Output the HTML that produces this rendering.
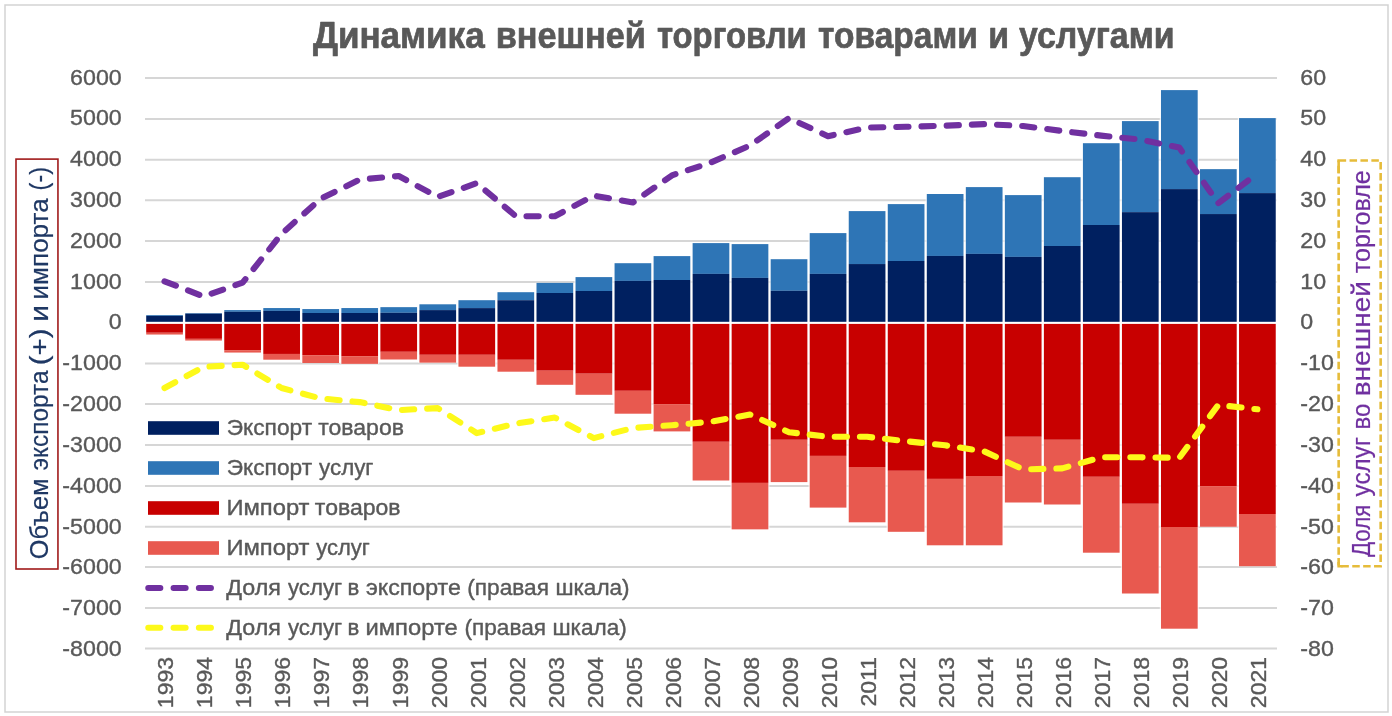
<!DOCTYPE html>
<html lang="ru"><head><meta charset="utf-8"><title>Динамика внешней торговли товарами и услугами</title>
<style>html,body{margin:0;padding:0;background:#fff}svg{display:block}</style></head>
<body>
<svg width="1392" height="716" viewBox="0 0 1392 716">
<rect x="0" y="0" width="1392" height="716" fill="#ffffff"/>
<rect x="5" y="5" width="1383" height="707" fill="none" stroke="#D3D3D3" stroke-width="1.5"/>
<line x1="145" x2="1277" y1="78.00" y2="78.00" stroke="#D6D6D6" stroke-width="2"/>
<line x1="145" x2="1277" y1="118.90" y2="118.90" stroke="#D6D6D6" stroke-width="2"/>
<line x1="145" x2="1277" y1="159.70" y2="159.70" stroke="#D6D6D6" stroke-width="2"/>
<line x1="145" x2="1277" y1="200.20" y2="200.20" stroke="#D6D6D6" stroke-width="2"/>
<line x1="145" x2="1277" y1="240.90" y2="240.90" stroke="#D6D6D6" stroke-width="2"/>
<line x1="145" x2="1277" y1="281.90" y2="281.90" stroke="#D6D6D6" stroke-width="2"/>
<line x1="145" x2="1277" y1="363.60" y2="363.60" stroke="#D6D6D6" stroke-width="2"/>
<line x1="145" x2="1277" y1="404.10" y2="404.10" stroke="#D6D6D6" stroke-width="2"/>
<line x1="145" x2="1277" y1="445.00" y2="445.00" stroke="#D6D6D6" stroke-width="2"/>
<line x1="145" x2="1277" y1="485.90" y2="485.90" stroke="#D6D6D6" stroke-width="2"/>
<line x1="145" x2="1277" y1="526.70" y2="526.70" stroke="#D6D6D6" stroke-width="2"/>
<line x1="145" x2="1277" y1="567.10" y2="567.10" stroke="#D6D6D6" stroke-width="2"/>
<line x1="145" x2="1277" y1="608.00" y2="608.00" stroke="#D6D6D6" stroke-width="2"/>
<line x1="145" x2="1277" y1="648.60" y2="648.60" stroke="#D6D6D6" stroke-width="2"/>
<rect x="145.00" y="315.10" width="39.03" height="19.45" fill="#ffffff" fill-opacity="0.75"/>
<rect x="146.20" y="315.10" width="36.7" height="0.80" fill="#2E75B6"/>
<rect x="146.20" y="315.90" width="36.7" height="5.90" fill="#002060"/>
<rect x="146.20" y="323.90" width="36.7" height="8.85" fill="#C80000"/>
<rect x="146.20" y="332.75" width="36.7" height="1.80" fill="#E8594F"/>
<rect x="184.03" y="313.10" width="39.03" height="27.45" fill="#ffffff" fill-opacity="0.75"/>
<rect x="185.23" y="313.10" width="36.7" height="0.60" fill="#2E75B6"/>
<rect x="185.23" y="313.70" width="36.7" height="8.10" fill="#002060"/>
<rect x="185.23" y="323.90" width="36.7" height="14.95" fill="#C80000"/>
<rect x="185.23" y="338.85" width="36.7" height="1.70" fill="#E8594F"/>
<rect x="223.06" y="310.10" width="39.03" height="42.45" fill="#ffffff" fill-opacity="0.75"/>
<rect x="224.26" y="310.10" width="36.7" height="1.70" fill="#2E75B6"/>
<rect x="224.26" y="311.80" width="36.7" height="10.00" fill="#002060"/>
<rect x="224.26" y="323.90" width="36.7" height="26.25" fill="#C80000"/>
<rect x="224.26" y="350.15" width="36.7" height="2.40" fill="#E8594F"/>
<rect x="262.09" y="308.05" width="39.03" height="51.65" fill="#ffffff" fill-opacity="0.75"/>
<rect x="263.29" y="308.05" width="36.7" height="2.85" fill="#2E75B6"/>
<rect x="263.29" y="310.90" width="36.7" height="10.90" fill="#002060"/>
<rect x="263.29" y="323.90" width="36.7" height="30.05" fill="#C80000"/>
<rect x="263.29" y="353.95" width="36.7" height="5.75" fill="#E8594F"/>
<rect x="301.12" y="309.06" width="39.03" height="53.94" fill="#ffffff" fill-opacity="0.75"/>
<rect x="302.32" y="309.06" width="36.7" height="3.94" fill="#2E75B6"/>
<rect x="302.32" y="313.00" width="36.7" height="8.80" fill="#002060"/>
<rect x="302.32" y="323.90" width="36.7" height="31.25" fill="#C80000"/>
<rect x="302.32" y="355.15" width="36.7" height="7.85" fill="#E8594F"/>
<rect x="340.15" y="308.05" width="39.03" height="55.80" fill="#ffffff" fill-opacity="0.75"/>
<rect x="341.35" y="308.05" width="36.7" height="4.95" fill="#2E75B6"/>
<rect x="341.35" y="313.00" width="36.7" height="8.80" fill="#002060"/>
<rect x="341.35" y="323.90" width="36.7" height="32.25" fill="#C80000"/>
<rect x="341.35" y="356.15" width="36.7" height="7.70" fill="#E8594F"/>
<rect x="379.18" y="307.15" width="39.03" height="52.35" fill="#ffffff" fill-opacity="0.75"/>
<rect x="380.38" y="307.15" width="36.7" height="5.65" fill="#2E75B6"/>
<rect x="380.38" y="312.80" width="36.7" height="9.00" fill="#002060"/>
<rect x="380.38" y="323.90" width="36.7" height="27.90" fill="#C80000"/>
<rect x="380.38" y="351.80" width="36.7" height="7.70" fill="#E8594F"/>
<rect x="418.21" y="304.30" width="39.03" height="58.35" fill="#ffffff" fill-opacity="0.75"/>
<rect x="419.41" y="304.30" width="36.7" height="5.80" fill="#2E75B6"/>
<rect x="419.41" y="310.10" width="36.7" height="11.70" fill="#002060"/>
<rect x="419.41" y="323.90" width="36.7" height="30.90" fill="#C80000"/>
<rect x="419.41" y="354.80" width="36.7" height="7.85" fill="#E8594F"/>
<rect x="457.24" y="300.20" width="39.03" height="66.50" fill="#ffffff" fill-opacity="0.75"/>
<rect x="458.44" y="300.20" width="36.7" height="7.90" fill="#2E75B6"/>
<rect x="458.44" y="308.10" width="36.7" height="13.70" fill="#002060"/>
<rect x="458.44" y="323.90" width="36.7" height="30.90" fill="#C80000"/>
<rect x="458.44" y="354.80" width="36.7" height="11.90" fill="#E8594F"/>
<rect x="496.27" y="292.20" width="39.03" height="79.50" fill="#ffffff" fill-opacity="0.75"/>
<rect x="497.47" y="292.20" width="36.7" height="8.00" fill="#2E75B6"/>
<rect x="497.47" y="300.20" width="36.7" height="21.60" fill="#002060"/>
<rect x="497.47" y="323.90" width="36.7" height="35.90" fill="#C80000"/>
<rect x="497.47" y="359.80" width="36.7" height="11.90" fill="#E8594F"/>
<rect x="535.30" y="282.90" width="39.03" height="101.90" fill="#ffffff" fill-opacity="0.75"/>
<rect x="536.50" y="282.90" width="36.7" height="10.10" fill="#2E75B6"/>
<rect x="536.50" y="293.00" width="36.7" height="28.80" fill="#002060"/>
<rect x="536.50" y="323.90" width="36.7" height="46.80" fill="#C80000"/>
<rect x="536.50" y="370.70" width="36.7" height="14.10" fill="#E8594F"/>
<rect x="574.33" y="277.10" width="39.03" height="117.70" fill="#ffffff" fill-opacity="0.75"/>
<rect x="575.53" y="277.10" width="36.7" height="13.90" fill="#2E75B6"/>
<rect x="575.53" y="291.00" width="36.7" height="30.80" fill="#002060"/>
<rect x="575.53" y="323.90" width="36.7" height="49.80" fill="#C80000"/>
<rect x="575.53" y="373.70" width="36.7" height="21.10" fill="#E8594F"/>
<rect x="613.36" y="263.20" width="39.03" height="150.50" fill="#ffffff" fill-opacity="0.75"/>
<rect x="614.56" y="263.20" width="36.7" height="17.70" fill="#2E75B6"/>
<rect x="614.56" y="280.90" width="36.7" height="40.90" fill="#002060"/>
<rect x="614.56" y="323.90" width="36.7" height="66.90" fill="#C80000"/>
<rect x="614.56" y="390.80" width="36.7" height="22.90" fill="#E8594F"/>
<rect x="652.39" y="256.10" width="39.03" height="175.30" fill="#ffffff" fill-opacity="0.75"/>
<rect x="653.59" y="256.10" width="36.7" height="23.90" fill="#2E75B6"/>
<rect x="653.59" y="280.00" width="36.7" height="41.80" fill="#002060"/>
<rect x="653.59" y="323.90" width="36.7" height="80.20" fill="#C80000"/>
<rect x="653.59" y="404.10" width="36.7" height="27.30" fill="#E8594F"/>
<rect x="691.42" y="243.10" width="39.03" height="237.40" fill="#ffffff" fill-opacity="0.75"/>
<rect x="692.62" y="243.10" width="36.7" height="30.80" fill="#2E75B6"/>
<rect x="692.62" y="273.90" width="36.7" height="47.90" fill="#002060"/>
<rect x="692.62" y="323.90" width="36.7" height="117.90" fill="#C80000"/>
<rect x="692.62" y="441.80" width="36.7" height="38.70" fill="#E8594F"/>
<rect x="730.45" y="244.10" width="39.03" height="285.25" fill="#ffffff" fill-opacity="0.75"/>
<rect x="731.65" y="244.10" width="36.7" height="33.80" fill="#2E75B6"/>
<rect x="731.65" y="277.90" width="36.7" height="43.90" fill="#002060"/>
<rect x="731.65" y="323.90" width="36.7" height="159.00" fill="#C80000"/>
<rect x="731.65" y="482.90" width="36.7" height="46.45" fill="#E8594F"/>
<rect x="769.48" y="259.20" width="39.03" height="222.90" fill="#ffffff" fill-opacity="0.75"/>
<rect x="770.68" y="259.20" width="36.7" height="31.60" fill="#2E75B6"/>
<rect x="770.68" y="290.80" width="36.7" height="31.00" fill="#002060"/>
<rect x="770.68" y="323.90" width="36.7" height="115.90" fill="#C80000"/>
<rect x="770.68" y="439.80" width="36.7" height="42.30" fill="#E8594F"/>
<rect x="808.51" y="233.10" width="39.03" height="274.50" fill="#ffffff" fill-opacity="0.75"/>
<rect x="809.71" y="233.10" width="36.7" height="40.80" fill="#2E75B6"/>
<rect x="809.71" y="273.90" width="36.7" height="47.90" fill="#002060"/>
<rect x="809.71" y="323.90" width="36.7" height="132.00" fill="#C80000"/>
<rect x="809.71" y="455.90" width="36.7" height="51.70" fill="#E8594F"/>
<rect x="847.54" y="211.10" width="39.03" height="311.20" fill="#ffffff" fill-opacity="0.75"/>
<rect x="848.74" y="211.10" width="36.7" height="52.95" fill="#2E75B6"/>
<rect x="848.74" y="264.05" width="36.7" height="57.75" fill="#002060"/>
<rect x="848.74" y="323.90" width="36.7" height="143.10" fill="#C80000"/>
<rect x="848.74" y="467.00" width="36.7" height="55.30" fill="#E8594F"/>
<rect x="886.57" y="204.10" width="39.03" height="327.70" fill="#ffffff" fill-opacity="0.75"/>
<rect x="887.77" y="204.10" width="36.7" height="56.90" fill="#2E75B6"/>
<rect x="887.77" y="261.00" width="36.7" height="60.80" fill="#002060"/>
<rect x="887.77" y="323.90" width="36.7" height="146.90" fill="#C80000"/>
<rect x="887.77" y="470.80" width="36.7" height="61.00" fill="#E8594F"/>
<rect x="925.60" y="194.00" width="39.03" height="351.30" fill="#ffffff" fill-opacity="0.75"/>
<rect x="926.80" y="194.00" width="36.7" height="61.95" fill="#2E75B6"/>
<rect x="926.80" y="255.95" width="36.7" height="65.85" fill="#002060"/>
<rect x="926.80" y="323.90" width="36.7" height="155.00" fill="#C80000"/>
<rect x="926.80" y="478.90" width="36.7" height="66.40" fill="#E8594F"/>
<rect x="964.63" y="187.10" width="39.03" height="358.20" fill="#ffffff" fill-opacity="0.75"/>
<rect x="965.83" y="187.10" width="36.7" height="66.80" fill="#2E75B6"/>
<rect x="965.83" y="253.90" width="36.7" height="67.90" fill="#002060"/>
<rect x="965.83" y="323.90" width="36.7" height="152.10" fill="#C80000"/>
<rect x="965.83" y="476.00" width="36.7" height="69.30" fill="#E8594F"/>
<rect x="1003.66" y="195.10" width="39.03" height="307.40" fill="#ffffff" fill-opacity="0.75"/>
<rect x="1004.86" y="195.10" width="36.7" height="61.80" fill="#2E75B6"/>
<rect x="1004.86" y="256.90" width="36.7" height="64.90" fill="#002060"/>
<rect x="1004.86" y="323.90" width="36.7" height="112.90" fill="#C80000"/>
<rect x="1004.86" y="436.80" width="36.7" height="65.70" fill="#E8594F"/>
<rect x="1042.69" y="177.20" width="39.03" height="327.30" fill="#ffffff" fill-opacity="0.75"/>
<rect x="1043.89" y="177.20" width="36.7" height="68.80" fill="#2E75B6"/>
<rect x="1043.89" y="246.00" width="36.7" height="75.80" fill="#002060"/>
<rect x="1043.89" y="323.90" width="36.7" height="115.90" fill="#C80000"/>
<rect x="1043.89" y="439.80" width="36.7" height="64.70" fill="#E8594F"/>
<rect x="1081.72" y="143.20" width="39.03" height="409.50" fill="#ffffff" fill-opacity="0.75"/>
<rect x="1082.92" y="143.20" width="36.7" height="81.80" fill="#2E75B6"/>
<rect x="1082.92" y="225.00" width="36.7" height="96.80" fill="#002060"/>
<rect x="1082.92" y="323.90" width="36.7" height="152.90" fill="#C80000"/>
<rect x="1082.92" y="476.80" width="36.7" height="75.90" fill="#E8594F"/>
<rect x="1120.75" y="121.10" width="39.03" height="472.40" fill="#ffffff" fill-opacity="0.75"/>
<rect x="1121.95" y="121.10" width="36.7" height="91.05" fill="#2E75B6"/>
<rect x="1121.95" y="212.15" width="36.7" height="109.65" fill="#002060"/>
<rect x="1121.95" y="323.90" width="36.7" height="179.90" fill="#C80000"/>
<rect x="1121.95" y="503.80" width="36.7" height="89.70" fill="#E8594F"/>
<rect x="1159.78" y="90.10" width="39.03" height="538.60" fill="#ffffff" fill-opacity="0.75"/>
<rect x="1160.98" y="90.10" width="36.7" height="99.00" fill="#2E75B6"/>
<rect x="1160.98" y="189.10" width="36.7" height="132.70" fill="#002060"/>
<rect x="1160.98" y="323.90" width="36.7" height="203.10" fill="#C80000"/>
<rect x="1160.98" y="527.00" width="36.7" height="101.70" fill="#E8594F"/>
<rect x="1198.81" y="169.15" width="39.03" height="357.60" fill="#ffffff" fill-opacity="0.75"/>
<rect x="1200.01" y="169.15" width="36.7" height="44.90" fill="#2E75B6"/>
<rect x="1200.01" y="214.05" width="36.7" height="107.75" fill="#002060"/>
<rect x="1200.01" y="323.90" width="36.7" height="162.20" fill="#C80000"/>
<rect x="1200.01" y="486.10" width="36.7" height="40.65" fill="#E8594F"/>
<rect x="1237.84" y="118.10" width="39.03" height="448.10" fill="#ffffff" fill-opacity="0.75"/>
<rect x="1239.04" y="118.10" width="36.7" height="75.00" fill="#2E75B6"/>
<rect x="1239.04" y="193.10" width="36.7" height="128.70" fill="#002060"/>
<rect x="1239.04" y="323.90" width="36.7" height="190.10" fill="#C80000"/>
<rect x="1239.04" y="514.00" width="36.7" height="52.20" fill="#E8594F"/>
<polyline points="164.5,281.3 203.5,296.4 242.6,282.7 281.6,233.8 320.6,198.8 359.7,179.6 398.7,176.0 437.7,196.9 476.8,183.2 515.8,216.2 554.8,216.2 593.8,195.6 632.9,202.5 671.9,175.4 710.9,162.5 750.0,145.5 789.0,118.1 828.0,136.2 867.1,127.6 906.1,126.8 945.1,125.7 984.1,124.1 1023.2,126.0 1062.2,131.0 1101.2,135.6 1140.3,139.6 1179.3,147.6 1218.3,203.2 1257.4,173.5" fill="none" stroke="#7030A0" stroke-width="6.1" stroke-linecap="round" stroke-linejoin="round" stroke-dasharray="12.2 13.0"/>
<polyline points="164.5,388.0 203.5,366.9 242.6,364.7 281.6,388.0 320.6,398.4 359.7,402.1 398.7,410.1 437.7,408.1 476.8,433.1 515.8,423.6 554.8,417.6 593.8,438.1 632.9,428.0 671.9,425.2 710.9,421.7 750.0,414.5 789.0,432.2 828.0,436.8 867.1,436.8 906.1,441.2 945.1,445.3 984.1,451.3 1023.2,469.4 1062.2,468.4 1101.2,457.3 1140.3,457.3 1179.3,457.8 1218.3,404.9 1257.4,409.3" fill="none" stroke="#FDF91A" stroke-width="6.1" stroke-linecap="round" stroke-linejoin="round" stroke-dasharray="12.2 12.97"/>
<text transform="translate(121.7,84.60) scale(1.075,1)" font-family="Liberation Sans, Arial, sans-serif" font-size="21.6" fill="#595959" stroke="#595959" stroke-width="0.35" text-anchor="end">6000</text>
<text transform="translate(1300.3,84.60) scale(1.075,1)" font-family="Liberation Sans, Arial, sans-serif" font-size="21.6" fill="#595959" stroke="#595959" stroke-width="0.35">60</text>
<text transform="translate(121.7,125.41) scale(1.075,1)" font-family="Liberation Sans, Arial, sans-serif" font-size="21.6" fill="#595959" stroke="#595959" stroke-width="0.35" text-anchor="end">5000</text>
<text transform="translate(1300.3,125.41) scale(1.075,1)" font-family="Liberation Sans, Arial, sans-serif" font-size="21.6" fill="#595959" stroke="#595959" stroke-width="0.35">50</text>
<text transform="translate(121.7,166.22) scale(1.075,1)" font-family="Liberation Sans, Arial, sans-serif" font-size="21.6" fill="#595959" stroke="#595959" stroke-width="0.35" text-anchor="end">4000</text>
<text transform="translate(1300.3,166.22) scale(1.075,1)" font-family="Liberation Sans, Arial, sans-serif" font-size="21.6" fill="#595959" stroke="#595959" stroke-width="0.35">40</text>
<text transform="translate(121.7,207.03) scale(1.075,1)" font-family="Liberation Sans, Arial, sans-serif" font-size="21.6" fill="#595959" stroke="#595959" stroke-width="0.35" text-anchor="end">3000</text>
<text transform="translate(1300.3,207.03) scale(1.075,1)" font-family="Liberation Sans, Arial, sans-serif" font-size="21.6" fill="#595959" stroke="#595959" stroke-width="0.35">30</text>
<text transform="translate(121.7,247.84) scale(1.075,1)" font-family="Liberation Sans, Arial, sans-serif" font-size="21.6" fill="#595959" stroke="#595959" stroke-width="0.35" text-anchor="end">2000</text>
<text transform="translate(1300.3,247.84) scale(1.075,1)" font-family="Liberation Sans, Arial, sans-serif" font-size="21.6" fill="#595959" stroke="#595959" stroke-width="0.35">20</text>
<text transform="translate(121.7,288.65) scale(1.075,1)" font-family="Liberation Sans, Arial, sans-serif" font-size="21.6" fill="#595959" stroke="#595959" stroke-width="0.35" text-anchor="end">1000</text>
<text transform="translate(1300.3,288.65) scale(1.075,1)" font-family="Liberation Sans, Arial, sans-serif" font-size="21.6" fill="#595959" stroke="#595959" stroke-width="0.35">10</text>
<text transform="translate(121.7,329.46) scale(1.075,1)" font-family="Liberation Sans, Arial, sans-serif" font-size="21.6" fill="#595959" stroke="#595959" stroke-width="0.35" text-anchor="end">0</text>
<text transform="translate(1300.3,329.46) scale(1.075,1)" font-family="Liberation Sans, Arial, sans-serif" font-size="21.6" fill="#595959" stroke="#595959" stroke-width="0.35">0</text>
<text transform="translate(121.7,370.27) scale(1.075,1)" font-family="Liberation Sans, Arial, sans-serif" font-size="21.6" fill="#595959" stroke="#595959" stroke-width="0.35" text-anchor="end">-1000</text>
<text transform="translate(1300.3,370.27) scale(1.075,1)" font-family="Liberation Sans, Arial, sans-serif" font-size="21.6" fill="#595959" stroke="#595959" stroke-width="0.35">-10</text>
<text transform="translate(121.7,411.08) scale(1.075,1)" font-family="Liberation Sans, Arial, sans-serif" font-size="21.6" fill="#595959" stroke="#595959" stroke-width="0.35" text-anchor="end">-2000</text>
<text transform="translate(1300.3,411.08) scale(1.075,1)" font-family="Liberation Sans, Arial, sans-serif" font-size="21.6" fill="#595959" stroke="#595959" stroke-width="0.35">-20</text>
<text transform="translate(121.7,451.89) scale(1.075,1)" font-family="Liberation Sans, Arial, sans-serif" font-size="21.6" fill="#595959" stroke="#595959" stroke-width="0.35" text-anchor="end">-3000</text>
<text transform="translate(1300.3,451.89) scale(1.075,1)" font-family="Liberation Sans, Arial, sans-serif" font-size="21.6" fill="#595959" stroke="#595959" stroke-width="0.35">-30</text>
<text transform="translate(121.7,492.70) scale(1.075,1)" font-family="Liberation Sans, Arial, sans-serif" font-size="21.6" fill="#595959" stroke="#595959" stroke-width="0.35" text-anchor="end">-4000</text>
<text transform="translate(1300.3,492.70) scale(1.075,1)" font-family="Liberation Sans, Arial, sans-serif" font-size="21.6" fill="#595959" stroke="#595959" stroke-width="0.35">-40</text>
<text transform="translate(121.7,533.51) scale(1.075,1)" font-family="Liberation Sans, Arial, sans-serif" font-size="21.6" fill="#595959" stroke="#595959" stroke-width="0.35" text-anchor="end">-5000</text>
<text transform="translate(1300.3,533.51) scale(1.075,1)" font-family="Liberation Sans, Arial, sans-serif" font-size="21.6" fill="#595959" stroke="#595959" stroke-width="0.35">-50</text>
<text transform="translate(121.7,574.32) scale(1.075,1)" font-family="Liberation Sans, Arial, sans-serif" font-size="21.6" fill="#595959" stroke="#595959" stroke-width="0.35" text-anchor="end">-6000</text>
<text transform="translate(1300.3,574.32) scale(1.075,1)" font-family="Liberation Sans, Arial, sans-serif" font-size="21.6" fill="#595959" stroke="#595959" stroke-width="0.35">-60</text>
<text transform="translate(121.7,615.13) scale(1.075,1)" font-family="Liberation Sans, Arial, sans-serif" font-size="21.6" fill="#595959" stroke="#595959" stroke-width="0.35" text-anchor="end">-7000</text>
<text transform="translate(1300.3,615.13) scale(1.075,1)" font-family="Liberation Sans, Arial, sans-serif" font-size="21.6" fill="#595959" stroke="#595959" stroke-width="0.35">-70</text>
<text transform="translate(121.7,655.94) scale(1.075,1)" font-family="Liberation Sans, Arial, sans-serif" font-size="21.6" fill="#595959" stroke="#595959" stroke-width="0.35" text-anchor="end">-8000</text>
<text transform="translate(1300.3,655.94) scale(1.075,1)" font-family="Liberation Sans, Arial, sans-serif" font-size="21.6" fill="#595959" stroke="#595959" stroke-width="0.35">-80</text>
<text transform="translate(173.31,656.9) rotate(-90) scale(1.02,1)" font-family="Liberation Sans, Arial, sans-serif" font-size="22.6" fill="#595959" stroke="#595959" stroke-width="0.35" text-anchor="end">1993</text>
<text transform="translate(212.35,656.9) rotate(-90) scale(1.02,1)" font-family="Liberation Sans, Arial, sans-serif" font-size="22.6" fill="#595959" stroke="#595959" stroke-width="0.35" text-anchor="end">1994</text>
<text transform="translate(251.38,656.9) rotate(-90) scale(1.02,1)" font-family="Liberation Sans, Arial, sans-serif" font-size="22.6" fill="#595959" stroke="#595959" stroke-width="0.35" text-anchor="end">1995</text>
<text transform="translate(290.41,656.9) rotate(-90) scale(1.02,1)" font-family="Liberation Sans, Arial, sans-serif" font-size="22.6" fill="#595959" stroke="#595959" stroke-width="0.35" text-anchor="end">1996</text>
<text transform="translate(329.44,656.9) rotate(-90) scale(1.02,1)" font-family="Liberation Sans, Arial, sans-serif" font-size="22.6" fill="#595959" stroke="#595959" stroke-width="0.35" text-anchor="end">1997</text>
<text transform="translate(368.47,656.9) rotate(-90) scale(1.02,1)" font-family="Liberation Sans, Arial, sans-serif" font-size="22.6" fill="#595959" stroke="#595959" stroke-width="0.35" text-anchor="end">1998</text>
<text transform="translate(407.50,656.9) rotate(-90) scale(1.02,1)" font-family="Liberation Sans, Arial, sans-serif" font-size="22.6" fill="#595959" stroke="#595959" stroke-width="0.35" text-anchor="end">1999</text>
<text transform="translate(446.53,656.9) rotate(-90) scale(1.02,1)" font-family="Liberation Sans, Arial, sans-serif" font-size="22.6" fill="#595959" stroke="#595959" stroke-width="0.35" text-anchor="end">2000</text>
<text transform="translate(485.56,656.9) rotate(-90) scale(1.02,1)" font-family="Liberation Sans, Arial, sans-serif" font-size="22.6" fill="#595959" stroke="#595959" stroke-width="0.35" text-anchor="end">2001</text>
<text transform="translate(524.59,656.9) rotate(-90) scale(1.02,1)" font-family="Liberation Sans, Arial, sans-serif" font-size="22.6" fill="#595959" stroke="#595959" stroke-width="0.35" text-anchor="end">2002</text>
<text transform="translate(563.62,656.9) rotate(-90) scale(1.02,1)" font-family="Liberation Sans, Arial, sans-serif" font-size="22.6" fill="#595959" stroke="#595959" stroke-width="0.35" text-anchor="end">2003</text>
<text transform="translate(602.64,656.9) rotate(-90) scale(1.02,1)" font-family="Liberation Sans, Arial, sans-serif" font-size="22.6" fill="#595959" stroke="#595959" stroke-width="0.35" text-anchor="end">2004</text>
<text transform="translate(641.67,656.9) rotate(-90) scale(1.02,1)" font-family="Liberation Sans, Arial, sans-serif" font-size="22.6" fill="#595959" stroke="#595959" stroke-width="0.35" text-anchor="end">2005</text>
<text transform="translate(680.70,656.9) rotate(-90) scale(1.02,1)" font-family="Liberation Sans, Arial, sans-serif" font-size="22.6" fill="#595959" stroke="#595959" stroke-width="0.35" text-anchor="end">2006</text>
<text transform="translate(719.74,656.9) rotate(-90) scale(1.02,1)" font-family="Liberation Sans, Arial, sans-serif" font-size="22.6" fill="#595959" stroke="#595959" stroke-width="0.35" text-anchor="end">2007</text>
<text transform="translate(758.76,656.9) rotate(-90) scale(1.02,1)" font-family="Liberation Sans, Arial, sans-serif" font-size="22.6" fill="#595959" stroke="#595959" stroke-width="0.35" text-anchor="end">2008</text>
<text transform="translate(797.79,656.9) rotate(-90) scale(1.02,1)" font-family="Liberation Sans, Arial, sans-serif" font-size="22.6" fill="#595959" stroke="#595959" stroke-width="0.35" text-anchor="end">2009</text>
<text transform="translate(836.82,656.9) rotate(-90) scale(1.02,1)" font-family="Liberation Sans, Arial, sans-serif" font-size="22.6" fill="#595959" stroke="#595959" stroke-width="0.35" text-anchor="end">2010</text>
<text transform="translate(875.86,656.9) rotate(-90) scale(1.02,1)" font-family="Liberation Sans, Arial, sans-serif" font-size="22.6" fill="#595959" stroke="#595959" stroke-width="0.35" text-anchor="end">2011</text>
<text transform="translate(914.88,656.9) rotate(-90) scale(1.02,1)" font-family="Liberation Sans, Arial, sans-serif" font-size="22.6" fill="#595959" stroke="#595959" stroke-width="0.35" text-anchor="end">2012</text>
<text transform="translate(953.91,656.9) rotate(-90) scale(1.02,1)" font-family="Liberation Sans, Arial, sans-serif" font-size="22.6" fill="#595959" stroke="#595959" stroke-width="0.35" text-anchor="end">2013</text>
<text transform="translate(992.94,656.9) rotate(-90) scale(1.02,1)" font-family="Liberation Sans, Arial, sans-serif" font-size="22.6" fill="#595959" stroke="#595959" stroke-width="0.35" text-anchor="end">2014</text>
<text transform="translate(1031.98,656.9) rotate(-90) scale(1.02,1)" font-family="Liberation Sans, Arial, sans-serif" font-size="22.6" fill="#595959" stroke="#595959" stroke-width="0.35" text-anchor="end">2015</text>
<text transform="translate(1071.00,656.9) rotate(-90) scale(1.02,1)" font-family="Liberation Sans, Arial, sans-serif" font-size="22.6" fill="#595959" stroke="#595959" stroke-width="0.35" text-anchor="end">2016</text>
<text transform="translate(1110.04,656.9) rotate(-90) scale(1.02,1)" font-family="Liberation Sans, Arial, sans-serif" font-size="22.6" fill="#595959" stroke="#595959" stroke-width="0.35" text-anchor="end">2017</text>
<text transform="translate(1149.06,656.9) rotate(-90) scale(1.02,1)" font-family="Liberation Sans, Arial, sans-serif" font-size="22.6" fill="#595959" stroke="#595959" stroke-width="0.35" text-anchor="end">2018</text>
<text transform="translate(1188.10,656.9) rotate(-90) scale(1.02,1)" font-family="Liberation Sans, Arial, sans-serif" font-size="22.6" fill="#595959" stroke="#595959" stroke-width="0.35" text-anchor="end">2019</text>
<text transform="translate(1227.12,656.9) rotate(-90) scale(1.02,1)" font-family="Liberation Sans, Arial, sans-serif" font-size="22.6" fill="#595959" stroke="#595959" stroke-width="0.35" text-anchor="end">2020</text>
<text transform="translate(1266.15,656.9) rotate(-90) scale(1.02,1)" font-family="Liberation Sans, Arial, sans-serif" font-size="22.6" fill="#595959" stroke="#595959" stroke-width="0.35" text-anchor="end">2021</text>
<rect x="148" y="421.2" width="71" height="13.6" fill="#002060"/>
<rect x="148" y="461.2" width="71" height="13.6" fill="#2E75B6"/>
<rect x="148" y="501.2" width="71" height="13.6" fill="#C80000"/>
<rect x="148" y="541.2" width="71" height="13.6" fill="#E8594F"/>
<line x1="148.3" x2="211.3" y1="588.0" y2="588.0" stroke="#7030A0" stroke-width="6.1" stroke-linecap="round" stroke-dasharray="12.0 13.3"/>
<line x1="148.3" x2="211.3" y1="627.7" y2="627.7" stroke="#FDF91A" stroke-width="6.1" stroke-linecap="round" stroke-dasharray="12.0 13.3"/>
<rect x="16.0" y="159.1" width="41.95" height="409.9" fill="#ffffff" stroke="#A01A1A" stroke-width="1.6"/>
<rect x="1338.65" y="160.45" width="42" height="405.8" fill="#ffffff" stroke="#E6BC3A" stroke-width="2.6" stroke-dasharray="7.5 3.4"/>
<line x1="1338.65" y1="160.45" x2="1338.65" y2="173.3" stroke="#E6BC3A" stroke-width="2.6"/>
<path d="M1338.65,562 V566.25 H1342.5" fill="none" stroke="#E6BC3A" stroke-width="2.6"/>
<text transform="translate(312.90,47.5) scale(0.9661,1)" font-family="Liberation Sans, Arial, sans-serif" font-weight="bold" stroke="#595959" stroke-width="0.7" stroke-linejoin="round" font-size="36.3" fill="#595959">Динамика</text>
<text transform="translate(495.66,47.5) scale(0.9444,1)" font-family="Liberation Sans, Arial, sans-serif" font-weight="bold" stroke="#595959" stroke-width="0.7" stroke-linejoin="round" font-size="36.3" fill="#595959">внешней</text>
<text transform="translate(656.89,47.5) scale(0.9051,1)" font-family="Liberation Sans, Arial, sans-serif" font-weight="bold" stroke="#595959" stroke-width="0.7" stroke-linejoin="round" font-size="36.3" fill="#595959">торговли</text>
<text transform="translate(818.08,47.5) scale(0.9235,1)" font-family="Liberation Sans, Arial, sans-serif" font-weight="bold" stroke="#595959" stroke-width="0.7" stroke-linejoin="round" font-size="36.3" fill="#595959">товарами</text>
<text transform="translate(988.18,47.5) scale(0.9327,1)" font-family="Liberation Sans, Arial, sans-serif" font-weight="bold" stroke="#595959" stroke-width="0.7" stroke-linejoin="round" font-size="36.3" fill="#595959">и</text>
<text transform="translate(1019.00,47.5) scale(0.9333,1)" font-family="Liberation Sans, Arial, sans-serif" font-weight="bold" stroke="#595959" stroke-width="0.7" stroke-linejoin="round" font-size="36.3" fill="#595959">услугами</text>
<text transform="translate(226.73,434.9) scale(1.0235,1)" font-family="Liberation Sans, Arial, sans-serif" stroke="#595959" stroke-width="0.4" stroke-linejoin="round" font-size="22.2" fill="#595959">Экспорт</text>
<text transform="translate(318.24,434.9) scale(1.0367,1)" font-family="Liberation Sans, Arial, sans-serif" stroke="#595959" stroke-width="0.4" stroke-linejoin="round" font-size="22.2" fill="#595959">товаров</text>
<text transform="translate(226.73,474.9) scale(1.0235,1)" font-family="Liberation Sans, Arial, sans-serif" stroke="#595959" stroke-width="0.4" stroke-linejoin="round" font-size="22.2" fill="#595959">Экспорт</text>
<text transform="translate(319.00,474.9) scale(1.0087,1)" font-family="Liberation Sans, Arial, sans-serif" stroke="#595959" stroke-width="0.4" stroke-linejoin="round" font-size="22.2" fill="#595959">услуг</text>
<text transform="translate(226.44,514.7) scale(1.0703,1)" font-family="Liberation Sans, Arial, sans-serif" stroke="#595959" stroke-width="0.4" stroke-linejoin="round" font-size="22.2" fill="#595959">Импорт</text>
<text transform="translate(314.84,514.7) scale(1.0380,1)" font-family="Liberation Sans, Arial, sans-serif" stroke="#595959" stroke-width="0.4" stroke-linejoin="round" font-size="22.2" fill="#595959">товаров</text>
<text transform="translate(226.44,554.5) scale(1.0703,1)" font-family="Liberation Sans, Arial, sans-serif" stroke="#595959" stroke-width="0.4" stroke-linejoin="round" font-size="22.2" fill="#595959">Импорт</text>
<text transform="translate(316.20,554.5) scale(0.9900,1)" font-family="Liberation Sans, Arial, sans-serif" stroke="#595959" stroke-width="0.4" stroke-linejoin="round" font-size="22.2" fill="#595959">услуг</text>
<text transform="translate(226.30,594.5) scale(1.0492,1)" font-family="Liberation Sans, Arial, sans-serif" stroke="#595959" stroke-width="0.4" stroke-linejoin="round" font-size="22.2" fill="#595959">Доля</text>
<text transform="translate(287.95,594.5) scale(1.0040,1)" font-family="Liberation Sans, Arial, sans-serif" stroke="#595959" stroke-width="0.4" stroke-linejoin="round" font-size="22.2" fill="#595959">услуг</text>
<text transform="translate(347.51,594.5) scale(0.9987,1)" font-family="Liberation Sans, Arial, sans-serif" stroke="#595959" stroke-width="0.4" stroke-linejoin="round" font-size="22.2" fill="#595959">в</text>
<text transform="translate(365.89,594.5) scale(1.0459,1)" font-family="Liberation Sans, Arial, sans-serif" stroke="#595959" stroke-width="0.4" stroke-linejoin="round" font-size="22.2" fill="#595959">экспорте</text>
<text transform="translate(467.24,594.5) scale(1.0211,1)" font-family="Liberation Sans, Arial, sans-serif" stroke="#595959" stroke-width="0.4" stroke-linejoin="round" font-size="22.2" fill="#595959">(правая</text>
<text transform="translate(555.39,594.5) scale(1.0168,1)" font-family="Liberation Sans, Arial, sans-serif" stroke="#595959" stroke-width="0.4" stroke-linejoin="round" font-size="22.2" fill="#595959">шкала)</text>
<text transform="translate(226.30,634.6) scale(1.0492,1)" font-family="Liberation Sans, Arial, sans-serif" stroke="#595959" stroke-width="0.4" stroke-linejoin="round" font-size="22.2" fill="#595959">Доля</text>
<text transform="translate(287.95,634.6) scale(1.0040,1)" font-family="Liberation Sans, Arial, sans-serif" stroke="#595959" stroke-width="0.4" stroke-linejoin="round" font-size="22.2" fill="#595959">услуг</text>
<text transform="translate(347.51,634.6) scale(0.9987,1)" font-family="Liberation Sans, Arial, sans-serif" stroke="#595959" stroke-width="0.4" stroke-linejoin="round" font-size="22.2" fill="#595959">в</text>
<text transform="translate(365.51,634.6) scale(1.0707,1)" font-family="Liberation Sans, Arial, sans-serif" stroke="#595959" stroke-width="0.4" stroke-linejoin="round" font-size="22.2" fill="#595959">импорте</text>
<text transform="translate(464.54,634.6) scale(1.0179,1)" font-family="Liberation Sans, Arial, sans-serif" stroke="#595959" stroke-width="0.4" stroke-linejoin="round" font-size="22.2" fill="#595959">(правая</text>
<text transform="translate(552.39,634.6) scale(1.0182,1)" font-family="Liberation Sans, Arial, sans-serif" stroke="#595959" stroke-width="0.4" stroke-linejoin="round" font-size="22.2" fill="#595959">шкала)</text>
<text transform="translate(47.6,559.19) rotate(-90) scale(0.9917,1)" font-family="Liberation Sans, Arial, sans-serif" stroke="#1F3864" stroke-width="0.2" stroke-linejoin="round" font-size="25.5" fill="#1F3864">Объем</text>
<text transform="translate(47.6,470.38) rotate(-90) scale(0.9572,1)" font-family="Liberation Sans, Arial, sans-serif" stroke="#1F3864" stroke-width="0.2" stroke-linejoin="round" font-size="25.5" fill="#1F3864">экспорта</text>
<text transform="translate(47.6,365.17) rotate(-90) scale(1.1478,1)" font-family="Liberation Sans, Arial, sans-serif" stroke="#1F3864" stroke-width="0.2" stroke-linejoin="round" font-size="25.5" fill="#1F3864">(+)</text>
<text transform="translate(47.6,321.69) rotate(-90) scale(1.1832,1)" font-family="Liberation Sans, Arial, sans-serif" stroke="#1F3864" stroke-width="0.2" stroke-linejoin="round" font-size="25.5" fill="#1F3864">и</text>
<text transform="translate(47.6,299.43) rotate(-90) scale(1.0222,1)" font-family="Liberation Sans, Arial, sans-serif" stroke="#1F3864" stroke-width="0.2" stroke-linejoin="round" font-size="25.5" fill="#1F3864">импорта</text>
<text transform="translate(47.6,190.40) rotate(-90) scale(0.9190,1)" font-family="Liberation Sans, Arial, sans-serif" stroke="#1F3864" stroke-width="0.2" stroke-linejoin="round" font-size="25.5" fill="#1F3864">(-)</text>
<text transform="translate(1369.8,557.10) rotate(-90) scale(0.8924,1)" font-family="Liberation Sans, Arial, sans-serif" stroke="#7030A0" stroke-width="0.2" stroke-linejoin="round" font-size="25.0" fill="#7030A0">Доля</text>
<text transform="translate(1369.8,496.40) rotate(-90) scale(0.9718,1)" font-family="Liberation Sans, Arial, sans-serif" stroke="#7030A0" stroke-width="0.2" stroke-linejoin="round" font-size="25.0" fill="#7030A0">услуг</text>
<text transform="translate(1369.8,429.50) rotate(-90) scale(0.9618,1)" font-family="Liberation Sans, Arial, sans-serif" stroke="#7030A0" stroke-width="0.2" stroke-linejoin="round" font-size="25.0" fill="#7030A0">во</text>
<text transform="translate(1369.8,396.36) rotate(-90) scale(1.1234,1)" font-family="Liberation Sans, Arial, sans-serif" stroke="#7030A0" stroke-width="0.2" stroke-linejoin="round" font-size="25.0" fill="#7030A0">внешней</text>
<text transform="translate(1369.8,273.29) rotate(-90) scale(1.0055,1)" font-family="Liberation Sans, Arial, sans-serif" stroke="#7030A0" stroke-width="0.2" stroke-linejoin="round" font-size="25.0" fill="#7030A0">торговле</text>
</svg>
</body></html>
